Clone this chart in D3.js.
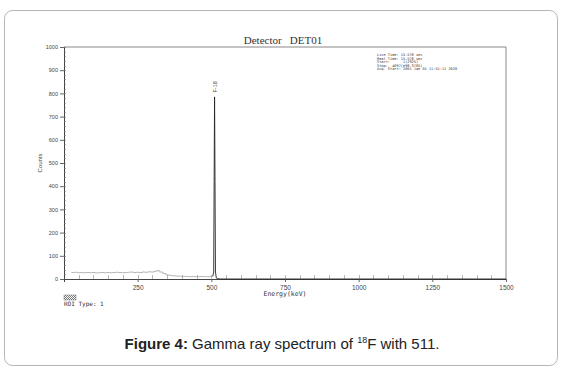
<!DOCTYPE html>
<html><head><meta charset="utf-8">
<script src="https://cdn.jsdelivr.net/npm/d3@7"></script>
<style>body{margin:0;background:#fff}svg{display:block}</style>
</head><body>
<svg id="c" width="569" height="374"></svg>
<script>
// Data
const energies = [25,35,45,55,65,75,85,95,105,115,125,135,145,155,165,175,185,195,205,215,225,235,245,255,265,275,285,295,305,315,325,335,345,355,365,375,385,395,405,415,425,435,445,455,465,475,485,495,505,508,509.5,511,512.5,514,517,522,530,560,600,700,800,900,1000,1100,1200,1300,1400,1500];
const counts   = [28,29,27,28,27,28,27,28,26,27,28,27,28,27,28,29,28,27,28,29,30,28,29,28,30,29,31,30,33,36,30,24,18,16,14,13,12,12,11,11,10,11,10,10,11,10,10,11,12,30,420,785,420,30,4,1,0,0,0,0,0,0,0,0,0,0,0,0];
const xTicks = [250,500,750,1000,1250,1500];
const yTicks = [0,100,200,300,400,500,600,700,800,900,1000];
const infoLines = ["Live Time: 15.578 sec","Real Time: 15.578 sec","Start:      1(2925)","Stop:  4097(e98.3765)","Acq. Start: 2001 Jan 01 11:51:11 2020"];

const svg = d3.select("#c");
// outer frame
svg.append("rect").attr("x",4.5).attr("y",10.5).attr("width",553).attr("height",355)
  .attr("rx",8).attr("fill","#fff").attr("stroke","#b5b5b5").attr("stroke-width",1);

const x = d3.scaleLinear().domain([0,1500]).range([64,506]);
const y = d3.scaleLinear().domain([0,1000]).range([279,47]);
const fmt = d3.format("d");

// plot box (top and right)
svg.append("path").attr("d",`M${x(0)},${y(1000)}H${x(1500)}V${y(0)}`)
  .attr("fill","none").attr("stroke","#888").attr("stroke-width",1);

// y axis
const ya = svg.append("g").attr("transform",`translate(${x(0)},0)`)
  .call(d3.axisLeft(y).tickValues(yTicks).tickFormat(fmt).tickSize(4).tickPadding(2));
ya.select(".domain").attr("stroke","#444");
ya.selectAll(".tick line").attr("stroke","#666");
ya.selectAll("text").attr("font-family","Liberation Sans").attr("font-size",5.5).attr("fill","#444");
// y minor ticks inside
const yMinor = d3.range(0,1001,20);
svg.append("g").selectAll("line").data(yMinor).join("line")
  .attr("x1",x(0)).attr("x2",x(0)+2).attr("y1",d=>Math.round(y(d))+0.5).attr("y2",d=>Math.round(y(d))+0.5)
  .attr("stroke","#777").attr("stroke-width",0.6);

// x axis
const xa = svg.append("g").attr("transform",`translate(0,${y(0)})`)
  .call(d3.axisBottom(x).tickValues(xTicks).tickFormat(fmt).tickSize(3).tickPadding(3));
xa.select(".domain").attr("stroke","#444");
xa.selectAll(".tick line").attr("stroke","#666");
xa.selectAll("text").attr("font-family","Liberation Sans").attr("font-size",6.5).attr("fill","#444");
const xMinor = d3.range(50,1500,50);
svg.append("g").selectAll("line").data(xMinor).join("line")
  .attr("x1",d=>Math.round(x(d))+0.5).attr("x2",d=>Math.round(x(d))+0.5).attr("y1",y(0)).attr("y2",y(0)-4)
  .attr("stroke","#888").attr("stroke-width",0.6);

// axis titles
svg.append("text").attr("x",285).attr("y",296).attr("text-anchor","middle")
  .attr("font-family","DejaVu Sans Mono").attr("font-size",6.5).attr("fill","#333").text("Energy(keV)");
svg.append("text").attr("transform","translate(42,163) rotate(-90)").attr("text-anchor","middle")
  .attr("font-family","Liberation Sans").attr("font-size",6).attr("fill","#444").text("Counts");

// title
svg.append("text").attr("x",283).attr("y",44).attr("text-anchor","middle")
  .attr("font-family","Liberation Serif").attr("font-size",11).attr("fill","#333")
  .attr("xml:space","preserve").text("Detector   DET01");

// spectrum
const pts = energies.map((e,i)=>[e,counts[i]]);
const line = d3.line().x(d=>x(d[0])).y(d=>y(d[1])).curve(d3.curveStepAfter);
svg.append("path").datum(pts.filter(d=>d[0]<=505)).attr("d",line)
  .attr("fill","none").attr("stroke","#999").attr("stroke-width",0.7);
svg.append("path").datum(pts.filter(d=>d[0]>=505)).attr("d",d3.line().x(d=>x(d[0])).y(d=>y(d[1])))
  .attr("fill","none").attr("stroke","#222").attr("stroke-width",0.9);

// peak label
const pk = energies[counts.indexOf(d3.max(counts))];
svg.append("text").attr("transform",`translate(${x(pk)+2},${y(d3.max(counts))-10}) rotate(-90)`)
  .attr("text-anchor","middle").attr("font-family","Liberation Sans").attr("font-size",5.5).attr("fill","#444").text("F-18");

// info box
svg.append("g").selectAll("text").data(infoLines).join("text")
  .attr("x",377).attr("y",(d,i)=>56+i*3.6)
  .attr("font-family","DejaVu Sans Mono").attr("font-size",3.6).attr("fill","#333")
  .attr("xml:space","preserve").text(d=>d);

// ROI legend
svg.append("defs").append("pattern").attr("id","hatch").attr("width",2).attr("height",2)
  .attr("patternUnits","userSpaceOnUse")
  .call(p=>{p.append("rect").attr("width",1).attr("height",1).attr("fill","#777");
            p.append("rect").attr("x",1).attr("y",1).attr("width",1).attr("height",1).attr("fill","#777");});
svg.append("rect").attr("x",64).attr("y",295).attr("width",12).attr("height",5).attr("fill","url(#hatch)").attr("stroke","#777").attr("stroke-width",0.5);
svg.append("text").attr("x",64).attr("y",306).attr("font-family","DejaVu Sans Mono").attr("font-size",6).attr("fill","#333")
  .text("ROI Type: 1");

// caption
const cap = svg.append("text").attr("x",282).attr("y",349).attr("text-anchor","middle")
  .attr("font-family","Liberation Sans").attr("font-size",15).attr("fill","#222");
cap.append("tspan").attr("font-weight","bold").text("Figure 4:");
cap.append("tspan").text(" Gamma ray spectrum of ");
cap.append("tspan").attr("font-size",9).attr("dy",-6).text("18");
cap.append("tspan").attr("dy",6).text("F with 511.");
</script>
</body></html>
